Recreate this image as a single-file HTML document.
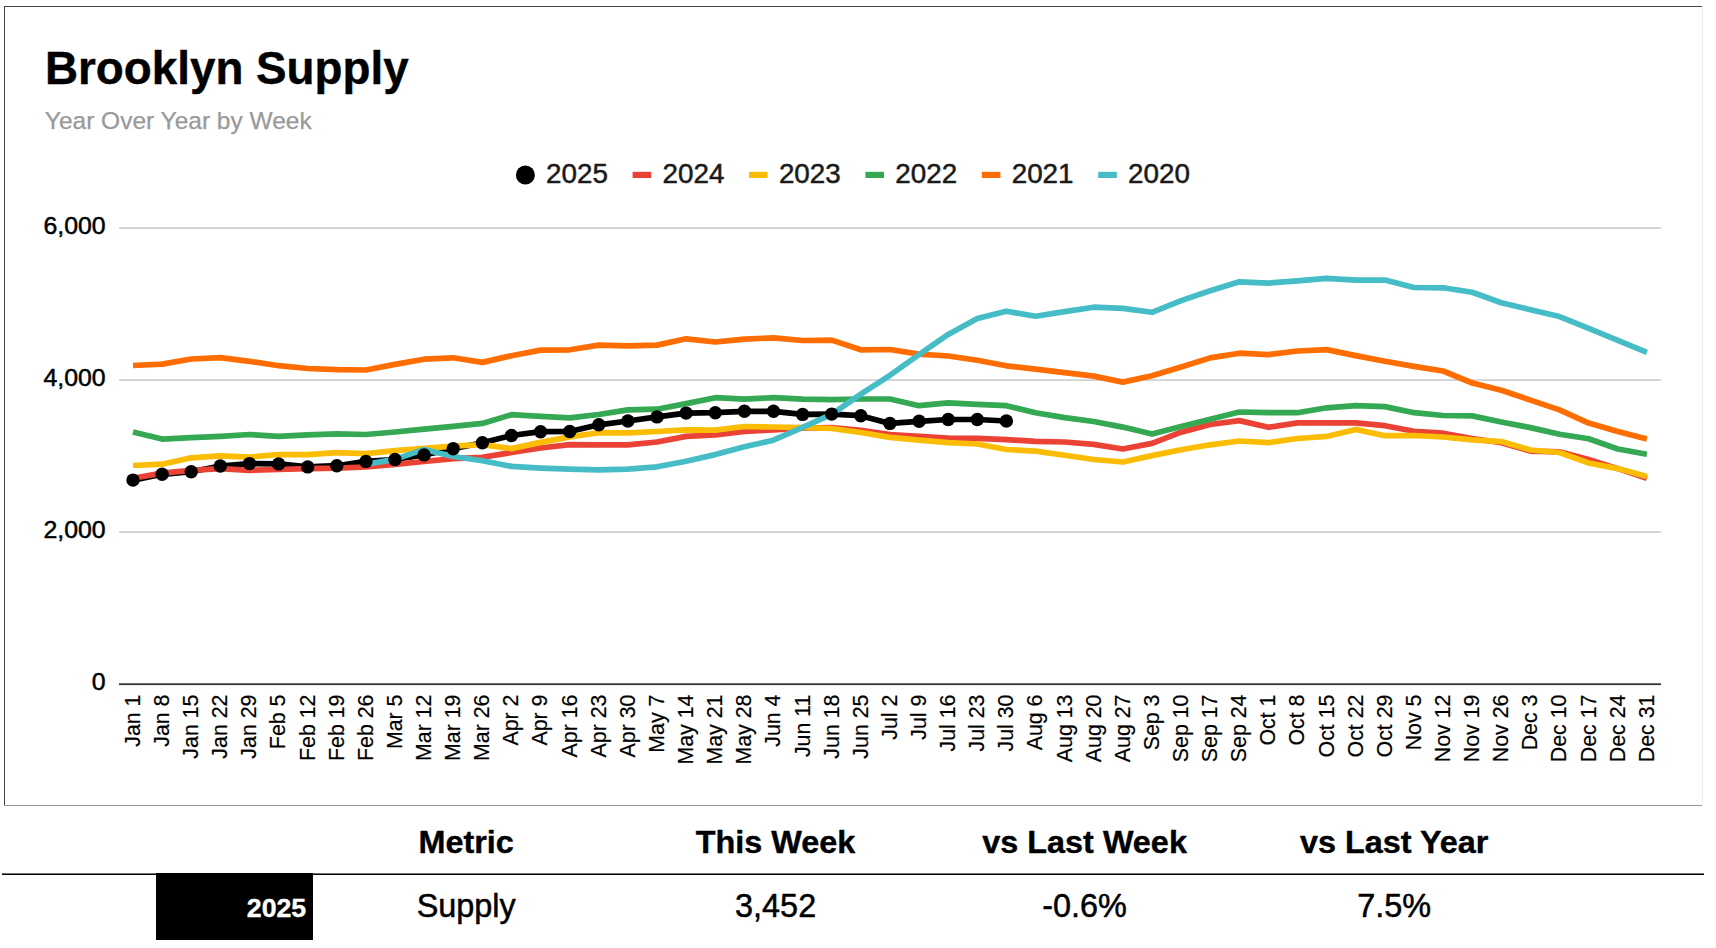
<!DOCTYPE html>
<html><head><meta charset="utf-8"><title>Brooklyn Supply</title>
<style>
html,body{margin:0;padding:0;background:#fff;}
body{width:1716px;height:948px;overflow:hidden;position:relative;font-family:"Liberation Sans",Arial,sans-serif;}
svg{position:absolute;left:0;top:0;display:block}
svg text{font-family:"Liberation Sans",Arial,sans-serif;}
.ln{fill:none;stroke-width:5.7;stroke-linejoin:round;stroke-linecap:butt}
</style></head><body>
<svg width="1716" height="948" viewBox="0 0 1716 948">
<rect x="0" y="0" width="1716" height="948" fill="#fff"/>
<!-- chart frame -->
<rect x="4" y="6" width="1699" height="1" fill="#484848"/>
<rect x="4" y="6" width="1" height="800" fill="#404040"/>
<rect x="4" y="805" width="1699" height="1" fill="#999"/>
<rect x="1702" y="6" width="1" height="800" fill="#eee"/>
<text transform="translate(45.00,83.50) scale(1.0065,1)" font-size="45.5" font-weight="bold" fill="#000" stroke="#000" stroke-width="0.4" stroke-linejoin="round">Brooklyn Supply</text>
<text transform="translate(44.80,129.40)" font-size="24.5" fill="#999999" stroke="#999999" stroke-width="0.25" stroke-linejoin="round">Year Over Year by Week</text>

<circle cx="525.4" cy="175" r="9.5" fill="#000000"/>
<text transform="translate(546.10,182.90)" font-size="27.8" fill="#1a1a1a" stroke="#1a1a1a" stroke-width="0.5" stroke-linejoin="round">2025</text>
<rect x="632.6" y="171.8" width="18.6" height="6.2" fill="#ea4335"/>
<text transform="translate(662.50,182.90)" font-size="27.8" fill="#1a1a1a" stroke="#1a1a1a" stroke-width="0.5" stroke-linejoin="round">2024</text>
<rect x="749.0" y="171.8" width="18.6" height="6.2" fill="#fbbc04"/>
<text transform="translate(778.90,182.90)" font-size="27.8" fill="#1a1a1a" stroke="#1a1a1a" stroke-width="0.5" stroke-linejoin="round">2023</text>
<rect x="865.4" y="171.8" width="18.6" height="6.2" fill="#34a853"/>
<text transform="translate(895.30,182.90)" font-size="27.8" fill="#1a1a1a" stroke="#1a1a1a" stroke-width="0.5" stroke-linejoin="round">2022</text>
<rect x="981.8" y="171.8" width="18.6" height="6.2" fill="#ff6d01"/>
<text transform="translate(1011.70,182.90)" font-size="27.8" fill="#1a1a1a" stroke="#1a1a1a" stroke-width="0.5" stroke-linejoin="round">2021</text>
<rect x="1098.2" y="171.8" width="18.6" height="6.2" fill="#46bdc6"/>
<text transform="translate(1128.10,182.90)" font-size="27.8" fill="#1a1a1a" stroke="#1a1a1a" stroke-width="0.5" stroke-linejoin="round">2020</text>
<rect x="119" y="227.3" width="1542" height="1.6" fill="#cccccc"/>
<rect x="119" y="379.3" width="1542" height="1.6" fill="#cccccc"/>
<rect x="119" y="531.3" width="1542" height="1.6" fill="#cccccc"/>
<text transform="translate(105.60,234.45) scale(1.01,1)" font-size="24.6" text-anchor="end" fill="#000" stroke="#000" stroke-width="0.5" stroke-linejoin="round">6,000</text>
<text transform="translate(105.60,386.45) scale(1.01,1)" font-size="24.6" text-anchor="end" fill="#000" stroke="#000" stroke-width="0.5" stroke-linejoin="round">4,000</text>
<text transform="translate(105.60,538.45) scale(1.01,1)" font-size="24.6" text-anchor="end" fill="#000" stroke="#000" stroke-width="0.5" stroke-linejoin="round">2,000</text>
<text transform="translate(105.60,690.45) scale(1.01,1)" font-size="24.6" text-anchor="end" fill="#000" stroke="#000" stroke-width="0.5" stroke-linejoin="round">0</text>
<rect x="119" y="683.3" width="1542" height="1.8" fill="#333333"/>
<path class="ln" stroke="#000000" d="M133.0,480.1 L162.1,474.3 L191.2,471.7 L220.3,466.0 L249.5,463.6 L278.6,463.9 L307.7,466.9 L336.8,465.7 L365.9,461.4 L395.0,459.5 L424.1,454.9 L453.2,448.8 L482.4,442.7 L511.5,435.5 L540.6,431.7 L569.7,431.5 L598.8,424.8 L627.9,421.0 L657.0,416.9 L686.1,413.1 L715.3,412.7 L744.4,411.3 L773.5,411.3 L802.6,414.4 L831.7,414.1 L860.8,415.7 L889.9,423.4 L919.1,421.3 L948.2,419.5 L977.3,419.5 L1006.4,421.0"/>
<path class="ln" stroke="#ea4335" d="M133.0,478.3 L162.1,473.1 L191.2,470.3 L220.3,468.6 L249.5,470.3 L278.6,469.5 L307.7,468.6 L336.8,468.2 L365.9,467.0 L395.0,464.3 L424.1,461.5 L453.2,458.6 L482.4,457.3 L511.5,452.5 L540.6,448.0 L569.7,444.7 L598.8,444.8 L627.9,444.8 L657.0,442.0 L686.1,436.4 L715.3,435.0 L744.4,431.3 L773.5,429.9 L802.6,428.2 L831.7,427.7 L860.8,430.4 L889.9,434.6 L919.1,436.4 L948.2,438.1 L977.3,438.4 L1006.4,439.6 L1035.5,441.3 L1064.6,442.0 L1093.7,444.4 L1122.8,449.0 L1152.0,443.4 L1181.1,432.2 L1210.2,424.5 L1239.3,420.6 L1268.4,427.3 L1297.5,422.9 L1326.6,422.9 L1355.7,422.9 L1384.9,425.7 L1414.0,431.3 L1443.1,433.2 L1472.2,438.5 L1501.3,442.7 L1530.4,451.1 L1559.5,451.8 L1588.7,459.5 L1617.8,468.6 L1646.9,478.4"/>
<path class="ln" stroke="#fbbc04" d="M133.0,465.5 L162.1,464.2 L191.2,457.8 L220.3,455.8 L249.5,457.1 L278.6,454.5 L307.7,454.6 L336.8,452.7 L365.9,453.6 L395.0,450.6 L424.1,448.4 L453.2,446.2 L482.4,444.6 L511.5,448.6 L540.6,442.4 L569.7,436.9 L598.8,432.7 L627.9,432.9 L657.0,431.5 L686.1,429.9 L715.3,430.1 L744.4,426.5 L773.5,427.0 L802.6,427.5 L831.7,428.5 L860.8,432.5 L889.9,437.4 L919.1,440.2 L948.2,442.6 L977.3,444.0 L1006.4,449.5 L1035.5,451.1 L1064.6,455.3 L1093.7,459.5 L1122.8,462.0 L1152.0,455.6 L1181.1,449.7 L1210.2,444.8 L1239.3,441.0 L1268.4,442.7 L1297.5,438.5 L1326.6,436.4 L1355.7,429.4 L1384.9,435.7 L1414.0,435.5 L1443.1,437.0 L1472.2,439.9 L1501.3,441.6 L1530.4,450.0 L1559.5,452.5 L1588.7,463.0 L1617.8,468.6 L1646.9,476.6"/>
<path class="ln" stroke="#34a853" d="M133.0,431.9 L162.1,439.1 L191.2,437.7 L220.3,436.3 L249.5,434.5 L278.6,436.3 L307.7,434.8 L336.8,433.9 L365.9,434.5 L395.0,432.0 L424.1,429.1 L453.2,426.3 L482.4,423.4 L511.5,414.7 L540.6,416.4 L569.7,417.9 L598.8,414.5 L627.9,409.9 L657.0,409.2 L686.1,403.6 L715.3,397.7 L744.4,399.1 L773.5,397.7 L802.6,399.1 L831.7,399.7 L860.8,399.0 L889.9,399.0 L919.1,405.7 L948.2,402.9 L977.3,404.3 L1006.4,405.7 L1035.5,412.7 L1064.6,417.6 L1093.7,421.5 L1122.8,427.1 L1152.0,434.1 L1181.1,426.6 L1210.2,419.2 L1239.3,412.0 L1268.4,412.7 L1297.5,412.7 L1326.6,407.8 L1355.7,405.7 L1384.9,406.6 L1414.0,412.7 L1443.1,415.5 L1472.2,415.9 L1501.3,422.0 L1530.4,427.6 L1559.5,434.3 L1588.7,438.8 L1617.8,449.0 L1646.9,454.3"/>
<path class="ln" stroke="#ff6d01" d="M133.0,365.5 L162.1,364.1 L191.2,359.0 L220.3,357.6 L249.5,361.3 L278.6,365.7 L307.7,368.5 L336.8,369.6 L365.9,370.0 L395.0,364.4 L424.1,359.2 L453.2,357.8 L482.4,362.4 L511.5,355.7 L540.6,350.1 L569.7,349.8 L598.8,345.1 L627.9,345.9 L657.0,345.1 L686.1,338.8 L715.3,342.0 L744.4,339.2 L773.5,337.8 L802.6,340.5 L831.7,340.1 L860.8,349.8 L889.9,349.5 L919.1,354.1 L948.2,356.0 L977.3,360.2 L1006.4,365.8 L1035.5,369.1 L1064.6,372.6 L1093.7,376.1 L1122.8,382.1 L1152.0,375.8 L1181.1,367.0 L1210.2,357.9 L1239.3,353.2 L1268.4,354.6 L1297.5,351.0 L1326.6,349.6 L1355.7,355.6 L1384.9,361.2 L1414.0,366.4 L1443.1,371.0 L1472.2,383.0 L1501.3,390.2 L1530.4,400.1 L1559.5,409.9 L1588.7,423.1 L1617.8,431.6 L1646.9,439.0"/>
<path class="ln" stroke="#46bdc6" d="M365.9,464.2 L395.0,459.4 L424.1,449.4 L453.2,456.5 L482.4,460.8 L511.5,466.4 L540.6,468.1 L569.7,469.2 L598.8,469.8 L627.9,469.1 L657.0,466.8 L686.1,461.2 L715.3,454.6 L744.4,446.7 L773.5,440.2 L802.6,427.4 L831.7,414.4 L860.8,394.2 L889.9,375.3 L919.1,354.5 L948.2,334.4 L977.3,318.6 L1006.4,311.2 L1035.5,316.3 L1064.6,311.6 L1093.7,307.2 L1122.8,308.4 L1152.0,312.3 L1181.1,300.6 L1210.2,290.7 L1239.3,281.8 L1268.4,283.1 L1297.5,280.8 L1326.6,278.3 L1355.7,280.1 L1384.9,280.1 L1414.0,287.5 L1443.1,287.8 L1472.2,292.2 L1501.3,302.7 L1530.4,309.7 L1559.5,316.6 L1588.7,328.3 L1617.8,340.4 L1646.9,352.3"/>
<circle cx="133.0" cy="480.1" r="6.7" fill="#000"/>
<circle cx="162.1" cy="474.3" r="6.7" fill="#000"/>
<circle cx="191.2" cy="471.7" r="6.7" fill="#000"/>
<circle cx="220.3" cy="466.0" r="6.7" fill="#000"/>
<circle cx="249.5" cy="463.6" r="6.7" fill="#000"/>
<circle cx="278.6" cy="463.9" r="6.7" fill="#000"/>
<circle cx="307.7" cy="466.9" r="6.7" fill="#000"/>
<circle cx="336.8" cy="465.7" r="6.7" fill="#000"/>
<circle cx="365.9" cy="461.4" r="6.7" fill="#000"/>
<circle cx="395.0" cy="459.5" r="6.7" fill="#000"/>
<circle cx="424.1" cy="454.9" r="6.7" fill="#000"/>
<circle cx="453.2" cy="448.8" r="6.7" fill="#000"/>
<circle cx="482.4" cy="442.7" r="6.7" fill="#000"/>
<circle cx="511.5" cy="435.5" r="6.7" fill="#000"/>
<circle cx="540.6" cy="431.7" r="6.7" fill="#000"/>
<circle cx="569.7" cy="431.5" r="6.7" fill="#000"/>
<circle cx="598.8" cy="424.8" r="6.7" fill="#000"/>
<circle cx="627.9" cy="421.0" r="6.7" fill="#000"/>
<circle cx="657.0" cy="416.9" r="6.7" fill="#000"/>
<circle cx="686.1" cy="413.1" r="6.7" fill="#000"/>
<circle cx="715.3" cy="412.7" r="6.7" fill="#000"/>
<circle cx="744.4" cy="411.3" r="6.7" fill="#000"/>
<circle cx="773.5" cy="411.3" r="6.7" fill="#000"/>
<circle cx="802.6" cy="414.4" r="6.7" fill="#000"/>
<circle cx="831.7" cy="414.1" r="6.7" fill="#000"/>
<circle cx="860.8" cy="415.7" r="6.7" fill="#000"/>
<circle cx="889.9" cy="423.4" r="6.7" fill="#000"/>
<circle cx="919.1" cy="421.3" r="6.7" fill="#000"/>
<circle cx="948.2" cy="419.5" r="6.7" fill="#000"/>
<circle cx="977.3" cy="419.5" r="6.7" fill="#000"/>
<circle cx="1006.4" cy="421.0" r="6.7" fill="#000"/>
<text transform="translate(139.90,694.60) rotate(-90) scale(0.97,1)" font-size="22" text-anchor="end" fill="#000" stroke="#000" stroke-width="0.2" stroke-linejoin="round">Jan 1</text>
<text transform="translate(169.01,694.60) rotate(-90) scale(0.97,1)" font-size="22" text-anchor="end" fill="#000" stroke="#000" stroke-width="0.2" stroke-linejoin="round">Jan 8</text>
<text transform="translate(198.13,694.60) rotate(-90) scale(0.97,1)" font-size="22" text-anchor="end" fill="#000" stroke="#000" stroke-width="0.2" stroke-linejoin="round">Jan 15</text>
<text transform="translate(227.24,694.60) rotate(-90) scale(0.97,1)" font-size="22" text-anchor="end" fill="#000" stroke="#000" stroke-width="0.2" stroke-linejoin="round">Jan 22</text>
<text transform="translate(256.35,694.60) rotate(-90) scale(0.97,1)" font-size="22" text-anchor="end" fill="#000" stroke="#000" stroke-width="0.2" stroke-linejoin="round">Jan 29</text>
<text transform="translate(285.46,694.60) rotate(-90) scale(0.97,1)" font-size="22" text-anchor="end" fill="#000" stroke="#000" stroke-width="0.2" stroke-linejoin="round">Feb 5</text>
<text transform="translate(314.58,694.60) rotate(-90) scale(0.97,1)" font-size="22" text-anchor="end" fill="#000" stroke="#000" stroke-width="0.2" stroke-linejoin="round">Feb 12</text>
<text transform="translate(343.69,694.60) rotate(-90) scale(0.97,1)" font-size="22" text-anchor="end" fill="#000" stroke="#000" stroke-width="0.2" stroke-linejoin="round">Feb 19</text>
<text transform="translate(372.80,694.60) rotate(-90) scale(0.97,1)" font-size="22" text-anchor="end" fill="#000" stroke="#000" stroke-width="0.2" stroke-linejoin="round">Feb 26</text>
<text transform="translate(401.92,694.60) rotate(-90) scale(0.97,1)" font-size="22" text-anchor="end" fill="#000" stroke="#000" stroke-width="0.2" stroke-linejoin="round">Mar 5</text>
<text transform="translate(431.03,694.60) rotate(-90) scale(0.97,1)" font-size="22" text-anchor="end" fill="#000" stroke="#000" stroke-width="0.2" stroke-linejoin="round">Mar 12</text>
<text transform="translate(460.14,694.60) rotate(-90) scale(0.97,1)" font-size="22" text-anchor="end" fill="#000" stroke="#000" stroke-width="0.2" stroke-linejoin="round">Mar 19</text>
<text transform="translate(489.26,694.60) rotate(-90) scale(0.97,1)" font-size="22" text-anchor="end" fill="#000" stroke="#000" stroke-width="0.2" stroke-linejoin="round">Mar 26</text>
<text transform="translate(518.37,694.60) rotate(-90) scale(0.97,1)" font-size="22" text-anchor="end" fill="#000" stroke="#000" stroke-width="0.2" stroke-linejoin="round">Apr 2</text>
<text transform="translate(547.48,694.60) rotate(-90) scale(0.97,1)" font-size="22" text-anchor="end" fill="#000" stroke="#000" stroke-width="0.2" stroke-linejoin="round">Apr 9</text>
<text transform="translate(576.59,694.60) rotate(-90) scale(0.97,1)" font-size="22" text-anchor="end" fill="#000" stroke="#000" stroke-width="0.2" stroke-linejoin="round">Apr 16</text>
<text transform="translate(605.71,694.60) rotate(-90) scale(0.97,1)" font-size="22" text-anchor="end" fill="#000" stroke="#000" stroke-width="0.2" stroke-linejoin="round">Apr 23</text>
<text transform="translate(634.82,694.60) rotate(-90) scale(0.97,1)" font-size="22" text-anchor="end" fill="#000" stroke="#000" stroke-width="0.2" stroke-linejoin="round">Apr 30</text>
<text transform="translate(663.93,694.60) rotate(-90) scale(0.97,1)" font-size="22" text-anchor="end" fill="#000" stroke="#000" stroke-width="0.2" stroke-linejoin="round">May 7</text>
<text transform="translate(693.05,694.60) rotate(-90) scale(0.97,1)" font-size="22" text-anchor="end" fill="#000" stroke="#000" stroke-width="0.2" stroke-linejoin="round">May 14</text>
<text transform="translate(722.16,694.60) rotate(-90) scale(0.97,1)" font-size="22" text-anchor="end" fill="#000" stroke="#000" stroke-width="0.2" stroke-linejoin="round">May 21</text>
<text transform="translate(751.27,694.60) rotate(-90) scale(0.97,1)" font-size="22" text-anchor="end" fill="#000" stroke="#000" stroke-width="0.2" stroke-linejoin="round">May 28</text>
<text transform="translate(780.39,694.60) rotate(-90) scale(0.97,1)" font-size="22" text-anchor="end" fill="#000" stroke="#000" stroke-width="0.2" stroke-linejoin="round">Jun 4</text>
<text transform="translate(809.50,694.60) rotate(-90) scale(0.97,1)" font-size="22" text-anchor="end" fill="#000" stroke="#000" stroke-width="0.2" stroke-linejoin="round">Jun 11</text>
<text transform="translate(838.61,694.60) rotate(-90) scale(0.97,1)" font-size="22" text-anchor="end" fill="#000" stroke="#000" stroke-width="0.2" stroke-linejoin="round">Jun 18</text>
<text transform="translate(867.73,694.60) rotate(-90) scale(0.97,1)" font-size="22" text-anchor="end" fill="#000" stroke="#000" stroke-width="0.2" stroke-linejoin="round">Jun 25</text>
<text transform="translate(896.84,694.60) rotate(-90) scale(0.97,1)" font-size="22" text-anchor="end" fill="#000" stroke="#000" stroke-width="0.2" stroke-linejoin="round">Jul 2</text>
<text transform="translate(925.95,694.60) rotate(-90) scale(0.97,1)" font-size="22" text-anchor="end" fill="#000" stroke="#000" stroke-width="0.2" stroke-linejoin="round">Jul 9</text>
<text transform="translate(955.06,694.60) rotate(-90) scale(0.97,1)" font-size="22" text-anchor="end" fill="#000" stroke="#000" stroke-width="0.2" stroke-linejoin="round">Jul 16</text>
<text transform="translate(984.18,694.60) rotate(-90) scale(0.97,1)" font-size="22" text-anchor="end" fill="#000" stroke="#000" stroke-width="0.2" stroke-linejoin="round">Jul 23</text>
<text transform="translate(1013.29,694.60) rotate(-90) scale(0.97,1)" font-size="22" text-anchor="end" fill="#000" stroke="#000" stroke-width="0.2" stroke-linejoin="round">Jul 30</text>
<text transform="translate(1042.40,694.60) rotate(-90) scale(0.97,1)" font-size="22" text-anchor="end" fill="#000" stroke="#000" stroke-width="0.2" stroke-linejoin="round">Aug 6</text>
<text transform="translate(1071.52,694.60) rotate(-90) scale(0.97,1)" font-size="22" text-anchor="end" fill="#000" stroke="#000" stroke-width="0.2" stroke-linejoin="round">Aug 13</text>
<text transform="translate(1100.63,694.60) rotate(-90) scale(0.97,1)" font-size="22" text-anchor="end" fill="#000" stroke="#000" stroke-width="0.2" stroke-linejoin="round">Aug 20</text>
<text transform="translate(1129.74,694.60) rotate(-90) scale(0.97,1)" font-size="22" text-anchor="end" fill="#000" stroke="#000" stroke-width="0.2" stroke-linejoin="round">Aug 27</text>
<text transform="translate(1158.86,694.60) rotate(-90) scale(0.97,1)" font-size="22" text-anchor="end" fill="#000" stroke="#000" stroke-width="0.2" stroke-linejoin="round">Sep 3</text>
<text transform="translate(1187.97,694.60) rotate(-90) scale(0.97,1)" font-size="22" text-anchor="end" fill="#000" stroke="#000" stroke-width="0.2" stroke-linejoin="round">Sep 10</text>
<text transform="translate(1217.08,694.60) rotate(-90) scale(0.97,1)" font-size="22" text-anchor="end" fill="#000" stroke="#000" stroke-width="0.2" stroke-linejoin="round">Sep 17</text>
<text transform="translate(1246.19,694.60) rotate(-90) scale(0.97,1)" font-size="22" text-anchor="end" fill="#000" stroke="#000" stroke-width="0.2" stroke-linejoin="round">Sep 24</text>
<text transform="translate(1275.31,694.60) rotate(-90) scale(0.97,1)" font-size="22" text-anchor="end" fill="#000" stroke="#000" stroke-width="0.2" stroke-linejoin="round">Oct 1</text>
<text transform="translate(1304.42,694.60) rotate(-90) scale(0.97,1)" font-size="22" text-anchor="end" fill="#000" stroke="#000" stroke-width="0.2" stroke-linejoin="round">Oct 8</text>
<text transform="translate(1333.53,694.60) rotate(-90) scale(0.97,1)" font-size="22" text-anchor="end" fill="#000" stroke="#000" stroke-width="0.2" stroke-linejoin="round">Oct 15</text>
<text transform="translate(1362.65,694.60) rotate(-90) scale(0.97,1)" font-size="22" text-anchor="end" fill="#000" stroke="#000" stroke-width="0.2" stroke-linejoin="round">Oct 22</text>
<text transform="translate(1391.76,694.60) rotate(-90) scale(0.97,1)" font-size="22" text-anchor="end" fill="#000" stroke="#000" stroke-width="0.2" stroke-linejoin="round">Oct 29</text>
<text transform="translate(1420.87,694.60) rotate(-90) scale(0.97,1)" font-size="22" text-anchor="end" fill="#000" stroke="#000" stroke-width="0.2" stroke-linejoin="round">Nov 5</text>
<text transform="translate(1449.99,694.60) rotate(-90) scale(0.97,1)" font-size="22" text-anchor="end" fill="#000" stroke="#000" stroke-width="0.2" stroke-linejoin="round">Nov 12</text>
<text transform="translate(1479.10,694.60) rotate(-90) scale(0.97,1)" font-size="22" text-anchor="end" fill="#000" stroke="#000" stroke-width="0.2" stroke-linejoin="round">Nov 19</text>
<text transform="translate(1508.21,694.60) rotate(-90) scale(0.97,1)" font-size="22" text-anchor="end" fill="#000" stroke="#000" stroke-width="0.2" stroke-linejoin="round">Nov 26</text>
<text transform="translate(1537.32,694.60) rotate(-90) scale(0.97,1)" font-size="22" text-anchor="end" fill="#000" stroke="#000" stroke-width="0.2" stroke-linejoin="round">Dec 3</text>
<text transform="translate(1566.44,694.60) rotate(-90) scale(0.97,1)" font-size="22" text-anchor="end" fill="#000" stroke="#000" stroke-width="0.2" stroke-linejoin="round">Dec 10</text>
<text transform="translate(1595.55,694.60) rotate(-90) scale(0.97,1)" font-size="22" text-anchor="end" fill="#000" stroke="#000" stroke-width="0.2" stroke-linejoin="round">Dec 17</text>
<text transform="translate(1624.66,694.60) rotate(-90) scale(0.97,1)" font-size="22" text-anchor="end" fill="#000" stroke="#000" stroke-width="0.2" stroke-linejoin="round">Dec 24</text>
<text transform="translate(1653.78,694.60) rotate(-90) scale(0.97,1)" font-size="22" text-anchor="end" fill="#000" stroke="#000" stroke-width="0.2" stroke-linejoin="round">Dec 31</text>
<rect x="2" y="873.45" width="1702" height="1.55" fill="#000"/>
<rect x="156" y="873" width="157" height="67" fill="#000"/>
<text transform="translate(306.20,917.10)" font-size="26.7" text-anchor="end" font-weight="bold" fill="#fff" stroke="#fff" stroke-width="0.4" stroke-linejoin="round">2025</text>
<text transform="translate(466.20,853.20) scale(1.012,1)" font-size="32" text-anchor="middle" font-weight="bold" fill="#000" stroke="#000" stroke-width="0.4" stroke-linejoin="round">Metric</text>
<text transform="translate(466.20,917.40) scale(0.995,1)" font-size="32.6" text-anchor="middle" fill="#000" stroke="#000" stroke-width="0.5" stroke-linejoin="round">Supply</text>
<text transform="translate(775.60,853.20) scale(1.012,1)" font-size="32" text-anchor="middle" font-weight="bold" fill="#000" stroke="#000" stroke-width="0.4" stroke-linejoin="round">This Week</text>
<text transform="translate(775.60,917.40) scale(0.995,1)" font-size="32.6" text-anchor="middle" fill="#000" stroke="#000" stroke-width="0.5" stroke-linejoin="round">3,452</text>
<text transform="translate(1084.60,853.20) scale(1.012,1)" font-size="32" text-anchor="middle" font-weight="bold" fill="#000" stroke="#000" stroke-width="0.4" stroke-linejoin="round">vs Last Week</text>
<text transform="translate(1084.60,917.40) scale(0.995,1)" font-size="32.6" text-anchor="middle" fill="#000" stroke="#000" stroke-width="0.5" stroke-linejoin="round">-0.6%</text>
<text transform="translate(1394.10,853.20) scale(1.012,1)" font-size="32" text-anchor="middle" font-weight="bold" fill="#000" stroke="#000" stroke-width="0.4" stroke-linejoin="round">vs Last Year</text>
<text transform="translate(1394.10,917.40) scale(0.995,1)" font-size="32.6" text-anchor="middle" fill="#000" stroke="#000" stroke-width="0.5" stroke-linejoin="round">7.5%</text>
</svg></body></html>
